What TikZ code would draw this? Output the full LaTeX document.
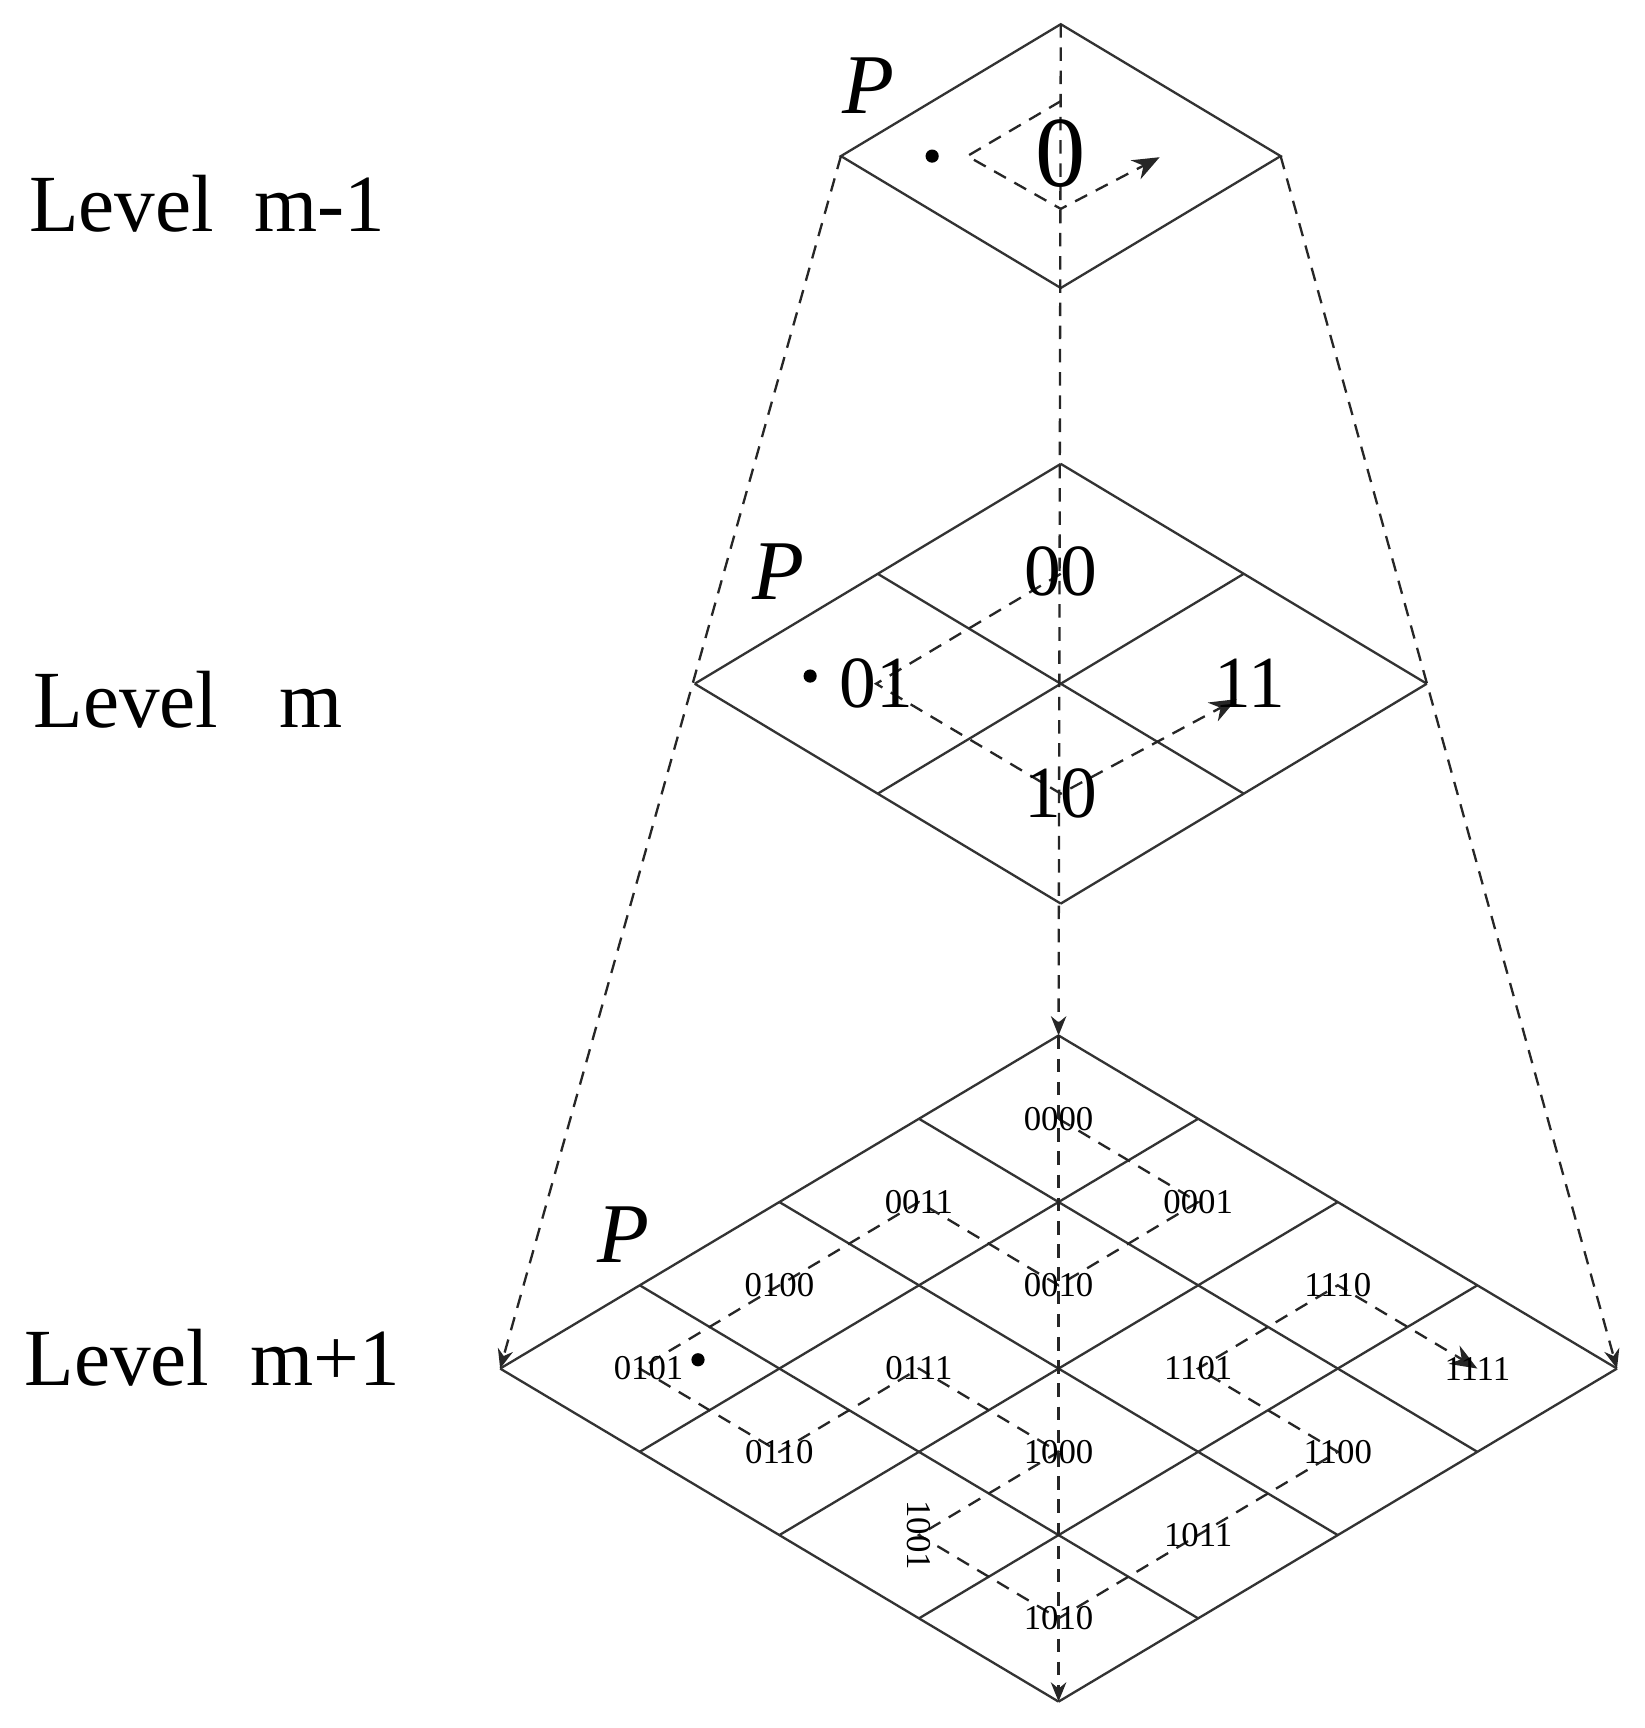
\documentclass[tikz,border=0pt]{standalone}
\usepackage{fontspec}
\setmainfont{Liberation Serif}
\usetikzlibrary{arrows.meta}
\newcommand\hc[2]{({963+(#1-#2)*127},{942+(#1+#2+1)*75.75})}
\begin{document}
\begin{tikzpicture}[x=0.01cm,y=-0.01cm,
  grid/.style={draw=black!80,line width=0.6pt},
  dsh/.style={dash pattern=on 3.5pt off 2.5pt,line width=0.6pt,black!85},
  lvl/.style={font=\fontsize{21}{24}\selectfont,anchor=west},
  pl/.style={font=\fontsize{22}{24}\selectfont\itshape},
  sm/.style={font=\fontsize{9}{10}\selectfont,inner sep=0pt},
  md/.style={font=\fontsize{19}{20}\selectfont,inner sep=0pt},
  tip/.style={-{Stealth[length=7pt,width=5.5pt]}}]
\useasboundingbox (0,0) rectangle (1496,1572);
% level labels
\node[lvl] (l1) at (14,185) {Level\ \ m-1};
\node[lvl] (l2) at (18,637) {Level\ \ \ m};
\node[lvl] (l3) at (10,1235) {Level\ \ m+1};
% top diamond
\coordinate (tT) at (965,22); \coordinate (tL) at (765,142);
\coordinate (tR) at (1165,142); \coordinate (tB) at (965,262);
\draw[grid] (tT)--(tR)--(tB)--(tL)--cycle;
% middle diamond
\foreach \i in {0,1,2}{
  \draw[grid] ({965+\i*166.5},{422+\i*100}) -- ({965+\i*166.5-333},{422+\i*100+200});
  \draw[grid] ({965-\i*166.5},{422+\i*100}) -- ({965-\i*166.5+333},{422+\i*100+200});
}
% bottom diamond
\coordinate (bT) at (963,942); \coordinate (bL) at (455,1245);
\coordinate (bR) at (1471,1245); \coordinate (bB) at (963,1548);
\foreach \i in {0,...,4}{
  \draw[grid] ({963+\i*127},{942+\i*75.75}) -- ({963+\i*127-508},{942+\i*75.75+303});
  \draw[grid] ({963-\i*127},{942+\i*75.75}) -- ({963-\i*127+508},{942+\i*75.75+303});
}
% pyramid dashed edges
\draw[dsh,-{Stealth[length=5pt,width=4pt]}] (tL) -- (bL);
\draw[dsh,-{Stealth[length=5pt,width=4pt]}] (tR) -- (bR);
\draw[dsh,-{Stealth[length=5pt,width=4pt]}] (tT) -- (bT);
\draw[dsh,-{Stealth[length=5pt,width=4pt]}] (bT) -- (bB);
% top curve
\fill (848,142) circle (6);
\draw[dsh,tip] (965,92) -- (880,142) -- (965,190) -- (1055,143);
\node[font=\fontsize{26}{28}\selectfont] (z) at (965,140) {0};
\node[pl] (p1) at (790,78) {P};
% middle curve
\fill (737,615) circle (6);
\draw[dsh,tip] (965,522) -- (797,622) -- (965,722) -- (1125,636);
\node[md] (n00) at (965,520) {00};
\node[md] (n01) at (797,622) {01};
\node[md] (n10) at (965,722) {10};
\node[md] (n11) at (1137,622) {11};
\node[pl] (p2) at (708,520) {P};
% bottom curve
\fill (635,1237) circle (6);
\draw[dsh,tip] \hc00 -- \hc10 -- \hc11 -- \hc01 -- \hc02 -- \hc03 -- \hc13 -- \hc12 -- \hc22 -- \hc23 -- \hc33 -- \hc32 -- \hc31 -- \hc21 -- \hc20 -- \hc30;
\node[sm] (a) at \hc00 {0000};
\node[sm] (b) at \hc10 {0001};
\node[sm] (c) at \hc11 {0010};
\node[sm] (d) at \hc01 {0011};
\node[sm] (e) at \hc02 {0100};
\node[sm] (f) at ({963-3*127+8},{942+4*75.75}) {0101};
\node[sm] (g) at \hc13 {0110};
\node[sm] (h) at \hc12 {0111};
\node[sm] (i) at \hc22 {1000};
\node[sm,rotate=-90] (j) at \hc23 {1001};
\node[sm] (k) at \hc33 {1010};
\node[sm] (l) at \hc32 {1011};
\node[sm] (m) at \hc31 {1100};
\node[sm] (n) at \hc21 {1101};
\node[sm] (o) at \hc20 {1110};
\node[sm] (q) at \hc30 {1111};
\node[pl] (p3) at (567,1123) {P};
\end{tikzpicture}
\end{document}
